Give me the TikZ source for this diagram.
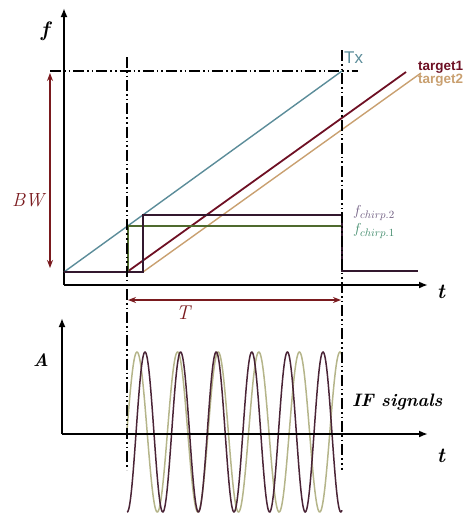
\documentclass[tikz,border=0pt]{standalone}
\usepackage{fontspec}
\newfontfamily\lsans{Liberation Sans}
\usetikzlibrary{arrows.meta}
\definecolor{txcol}{HTML}{5B8C99}
\definecolor{t1col}{HTML}{6E1024}
\definecolor{t2col}{HTML}{C9A070}
\definecolor{boxcol}{HTML}{33182E}
\definecolor{grcol}{HTML}{4F6A2E}
\definecolor{bwcol}{HTML}{7A1A1E}
\definecolor{fc2col}{HTML}{6E5C80}
\definecolor{fc1col}{HTML}{3F8A6A}
\definecolor{w1col}{HTML}{4A2436}
\definecolor{w2col}{HTML}{B5B58A}
\begin{document}
\begin{tikzpicture}[x=1pt,y=-1pt,
  axis/.style={line width=2.4pt,-{Latex[length=9pt,width=7pt]}},
  dashdot/.style={line width=1.8pt,dash pattern=on 11pt off 3pt on 1.6pt off 3pt on 1.6pt off 3pt},
  dimarrow/.style={bwcol,line width=1.6pt,{Stealth[length=8pt,width=6pt]}-{Stealth[length=8pt,width=6pt]}},
  lbl/.style={inner sep=0pt,font=\fontsize{21}{24}\selectfont\bfseries\itshape},
  wave/.style={line width=1.5pt,smooth}
]
\useasboundingbox (0,0) rectangle (471,517);

% ---------- top plot ----------
\coordinate (O1) at (64,285);
\coordinate (fTop) at (64,8);
\coordinate (tEnd) at (428,285);
\draw[axis] (O1) -- (fTop);
\draw[axis] (O1) -- (tEnd);
\node[lbl] (fl) at (45,31) {f};
\node[lbl] (tl1) at (441,292) {t};

% dash-dot reference lines
\coordinate (hL) at (50,71);
\coordinate (hR) at (358,71);
\draw[dashdot] (hL) -- (hR);
\coordinate (vLa) at (127,57);
\coordinate (vLb) at (127,470);
\coordinate (vRa) at (342,50);
\coordinate (vRb) at (342,470);

% Tx chirp
\coordinate (tx0) at (64,272);
\coordinate (tx1) at (342,71);
\draw[txcol,line width=1.4pt] (tx0) -- (tx1);
\node[txcol,font=\lsans\fontsize{17}{20}\selectfont,anchor=west,inner sep=0pt] (txl) at (344,58) {Tx};

% targets
\coordinate (a0) at (127,272);
\coordinate (a1) at (406,72);
\coordinate (b0) at (143,272);
\coordinate (b1) at (421,73);
\draw[t2col,line width=1.4pt] (b0) -- (b1);
\draw[t1col,line width=1.8pt] (a0) -- (a1);
\node[t1col,font=\lsans\bfseries\fontsize{13.5}{15}\selectfont,anchor=west,inner sep=0pt] (t1l) at (418,67) {target1};
\node[t2col,font=\lsans\bfseries\fontsize{13.5}{15}\selectfont,anchor=west,inner sep=0pt] (t2l) at (418,80) {target2};

% IF frequency steps
\coordinate (g0) at (128,272);
\coordinate (g1) at (128,226);
\coordinate (g2) at (342,226);
\draw[grcol,line width=1.8pt] (g0) -- (g1) -- (g2);
\coordinate (p0) at (64,272);
\coordinate (p1) at (143,272);
\coordinate (p2) at (143,215);
\coordinate (p3) at (342,215);
\coordinate (p4) at (342,271);
\coordinate (p5) at (418,271);
\draw[boxcol,line width=2pt] (p0) -- (p1) -- (p2) -- (p3) -- (p4) -- (p5);
\node[fc2col,anchor=west,inner sep=0pt,font=\fontsize{15.5}{17}\selectfont] (fc2) at (353,213) {$f_{chirp.2}$};
\node[fc1col,anchor=west,inner sep=0pt,font=\fontsize{15.5}{17}\selectfont] (fc1) at (353,231) {$f_{chirp.1}$};

% BW arrow
\coordinate (bwT) at (50,73);
\coordinate (bwB) at (50,268);
\draw[dimarrow] (bwT) -- (bwB);
\node[bwcol,inner sep=0pt,font=\fontsize{19}{22}\selectfont\itshape] (bwl) at (28,200) {BW};

% T arrow
\coordinate (TL) at (128,300);
\coordinate (TR) at (341,300);
\draw[dimarrow] (TL) -- (TR);
\node[bwcol,inner sep=0pt,font=\fontsize{20}{23}\selectfont\itshape] (Tl) at (183,313) {T};

% ---------- bottom plot ----------
\draw[w2col,wave] plot[domain=127:342,samples=400] (\x,{432-80*cos((\x-137)/40.6*360)});
\draw[w1col,wave] plot[domain=127:342,samples=400] (\x,{432-80*cos((\x-145)/35.6*360)});

\coordinate (O2) at (62,434);
\coordinate (aTop) at (62,318);
\coordinate (t2End) at (428,434);
\draw[axis] (O2) -- (aTop);
\draw[axis] (O2) -- (t2End);
\node[lbl,font=\fontsize{18}{21}\selectfont\bfseries\itshape] (Al) at (41,360) {A};
\node[lbl] (tl2) at (441,456) {t};
\node[lbl,font=\fontsize{18}{21}\selectfont\bfseries\itshape,anchor=west] (ifl) at (352,402) {IF signals};

% vertical dash-dot lines on top
\draw[dashdot] (vLa) -- (vLb);
\draw[dashdot] (vRa) -- (vRb);
\end{tikzpicture}
\end{document}
